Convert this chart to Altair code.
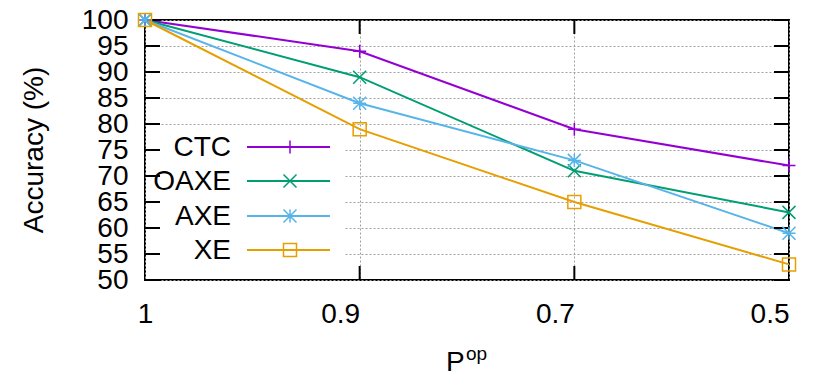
import altair as alt
import pandas as pd

# ---- data ----
x_labels = ["1", "0.9", "0.7", "0.5"]
series = ["CTC", "OAXE", "AXE", "XE"]
ctc = [100, 94, 79, 72]
oaxe = [100, 89, 71, 63]
axe = [100, 84, 73, 59]
xe = [100, 79, 65, 53]
y_ticks = [50, 55, 60, 65, 70, 75, 80, 85, 90, 95, 100]
inner_x_ticks = ["0.9", "0.7"]

colors = ["#9400d3", "#009e73", "#56b4e9", "#e69f00"]
PLUS = "M-1,0L1,0M0,-1L0,1"
CROSS = "M-1,-1L1,1M-1,1L1,-1"
STAR = "M-1,0L1,0M0,-1L0,1M-1,-1L1,1M-1,1L1,-1"
shapes = [PLUS, CROSS, STAR, "square"]

rows = []
for s, vals in zip(series, [ctc, oaxe, axe, xe]):
    for i, (xl, v) in enumerate(zip(x_labels, vals)):
        rows.append({"series": s, "p": xl, "idx": i, "acc": v})
df = pd.DataFrame(rows)

FONT = "Liberation Sans"
W, H = 644, 260

xscale = alt.Scale(type="point", padding=0, domain=x_labels)
yscale = alt.Scale(domain=[50, 100], nice=False, zero=False)
cscale = alt.Scale(domain=series, range=colors)
sscale = alt.Scale(domain=series, range=shapes)

x_axis = alt.Axis(title=None, labelAngle=0, labelFontSize=28, labelFont=FONT,
                  labelColor="black", ticks=False, domain=False, grid=True,
                  gridDash=[2, 2], gridColor="#a0a0a0", gridWidth=1,
                  labelPadding=20, labelFlush=False, labelOverlap=False,
                  labelAlign=alt.ExprRef(expr="datum.label == '1' ? 'center' : 'right'"))
y_axis = alt.Axis(title=None, values=y_ticks, labelFontSize=28, labelFont=FONT,
                  labelColor="black", ticks=False, domain=False, grid=True,
                  gridDash=[2, 2], gridColor="#a0a0a0", gridWidth=1,
                  labelPadding=17, labelFlush=False, labelOverlap=False)


def X():
    return alt.X("p:O", scale=xscale, sort=x_labels, axis=x_axis)


def Y():
    return alt.Y("acc:Q", scale=yscale, axis=y_axis)


base = alt.Chart(df)

lines = base.mark_line(strokeWidth=2).encode(
    x=X(), y=Y(),
    color=alt.Color("series:N", scale=cscale, legend=None),
    order=alt.Order("idx:Q"),
)

# white opaque legend box (covers grid)
one = pd.DataFrame({"a": [0]})
legend_box = alt.Chart(one).mark_rect(color="white").encode(
    x=alt.value(2), x2=alt.value(200), y=alt.value(108), y2=alt.value(258)
)

points = base.mark_point(filled=False, strokeWidth=1.5, size=169, opacity=1).encode(
    x=X(), y=Y(),
    color=alt.Color("series:N", scale=cscale, legend=None),
    shape=alt.Shape("series:N", scale=sscale, legend=None),
)

# inward ticks
ytdf = pd.DataFrame({"acc": y_ticks})
yt_left = alt.Chart(ytdf).mark_rule(color="black", strokeWidth=2).encode(
    y=Y(), x=alt.value(0), x2=alt.value(15))
yt_right = alt.Chart(ytdf).mark_rule(color="black", strokeWidth=2).encode(
    y=Y(), x=alt.value(W - 15), x2=alt.value(W))
xtdf = pd.DataFrame({"p": inner_x_ticks})
xt_top = alt.Chart(xtdf).mark_rule(color="black", strokeWidth=2).encode(
    x=X(), y=alt.value(0), y2=alt.value(14))
xt_bot = alt.Chart(xtdf).mark_rule(color="black", strokeWidth=2).encode(
    x=X(), y=alt.value(H - 14), y2=alt.value(H))

# manual legend
leg_layers = []
leg_y = [127, 161, 196, 230]
for i, s in enumerate(series):
    ly = leg_y[i]
    leg_layers.append(alt.Chart(one).mark_rule(color=colors[i], strokeWidth=2).encode(
        x=alt.value(102), x2=alt.value(185), y=alt.value(ly)))
    leg_layers.append(alt.Chart(one).mark_point(
        color=colors[i], shape=shapes[i], filled=False, strokeWidth=1.5, size=169, opacity=1
    ).encode(x=alt.value(145), y=alt.value(ly)))
    leg_layers.append(alt.Chart(one).mark_text(
        text=s, font=FONT, fontSize=28, align="right", baseline="middle", color="black"
    ).encode(x=alt.value(86), y=alt.value(ly + 1)))

# axis titles
ytitle = alt.Chart(one).mark_text(
    text="Accuracy (%)", font=FONT, fontSize=28, angle=270, align="center",
    baseline="middle", color="black").encode(x=alt.value(-110), y=alt.value(130))
xtitle_p = alt.Chart(one).mark_text(
    text="P", font=FONT, fontSize=28, align="left", baseline="alphabetic",
    color="black").encode(x=alt.value(301), y=alt.value(351))
xtitle_op = alt.Chart(one).mark_text(
    text="op", font=FONT, fontSize=19, align="left", baseline="alphabetic",
    color="black").encode(x=alt.value(321), y=alt.value(340))

chart = alt.layer(
    lines, legend_box, yt_left, yt_right, xt_top, xt_bot, points,
    *leg_layers, ytitle, xtitle_p, xtitle_op
).properties(
    width=W, height=H,
    autosize=alt.AutoSizeParams(type="none"),
    padding={"left": 137, "top": 12, "right": 25, "bottom": 94},
).configure_view(stroke="black", strokeWidth=2)

chart.save("out.html", embed_options={"renderer": "svg", "actions": False})
